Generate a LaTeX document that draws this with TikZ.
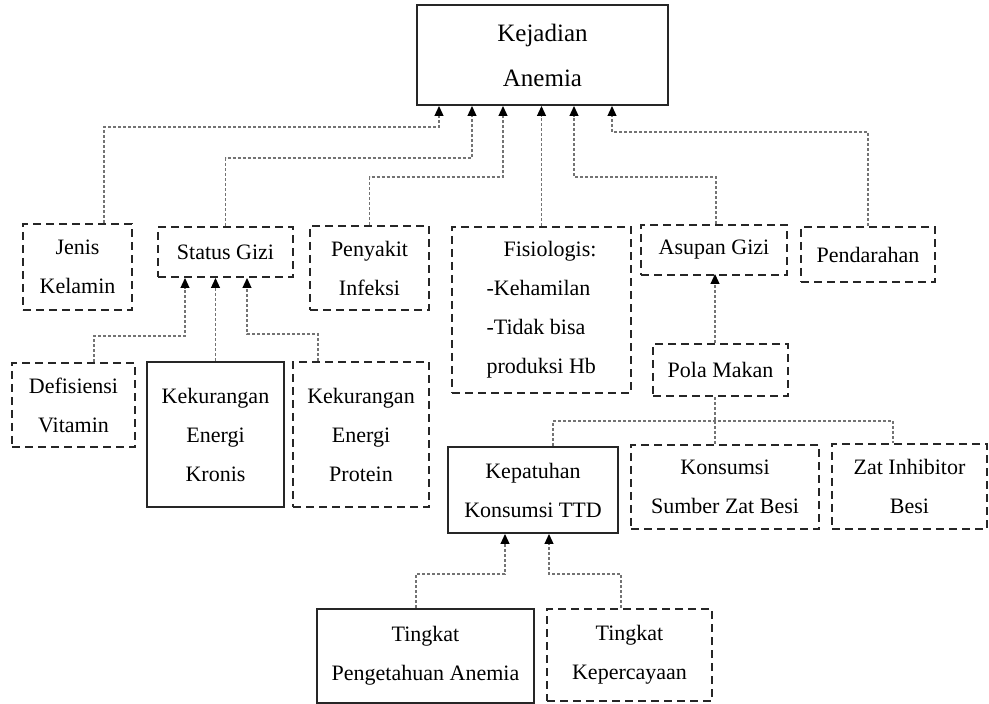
\documentclass[tikz,border=0pt]{standalone}
\usepackage{fontspec}
\setmainfont{Liberation Serif}
\usetikzlibrary{arrows.meta}

\begin{document}
\begin{tikzpicture}[
    x=0.5pt, y=-0.5pt,
    box/.style={rectangle, draw=black!85, line width=1pt, dash pattern=on 4pt off 2.5pt, align=center, inner sep=0pt, font=\fontsize{11pt}{19.5pt}\selectfont},
    solidbox/.style={box, solid},
    link/.style={draw=black!55, line width=0.6pt, dash pattern=on 1.5pt off 1pt},
    arrow/.style={link, -{Triangle[length=5pt, width=4.5pt, color=black]}}
]
\useasboundingbox (0,0) rectangle (989,704);

% Outcome
\node[solidbox, minimum width=125.5pt, minimum height=50pt, font=\fontsize{12.5pt}{22.5pt}\selectfont] (anemia) at (542.5,55) {Kejadian\\Anemia};

% Direct factors
\node[box, minimum width=54.5pt, minimum height=43pt] (jenis) at (77.5,267) {Jenis\\Kelamin};
\node[box, minimum width=67.5pt, minimum height=25pt] (status) at (225.5,252) {Status Gizi};
\node[box, minimum width=59.5pt, minimum height=42pt] (infeksi) at (369.5,268) {Penyakit\\Infeksi};
\node[box, minimum width=89.5pt, minimum height=83pt, align=left] (fisio) at (541.5,310) {\hspace*{8.5pt}Fisiologis:\\-Kehamilan\\-Tidak bisa\\produksi Hb};
\node[box, minimum width=73pt, minimum height=25pt] (asupan) at (714,250) {Asupan Gizi};
\node[box, minimum width=67pt, minimum height=27.5pt] (darah) at (868,254.5) {Pendarahan};

% Status gizi factors
\node[box, minimum width=61.5pt, minimum height=42pt] (vitamin) at (73.5,405) {Defisiensi\\Vitamin};
\node[solidbox, minimum width=68.5pt, minimum height=72.5pt] (kek) at (215.5,434.5) {Kekurangan\\Energi\\Kronis};
\node[box, minimum width=68pt, minimum height=72.5pt] (kep) at (361,434.5) {Kekurangan\\Energi\\Protein};

% Asupan gizi factors
\node[box, minimum width=67.5pt, minimum height=26pt] (pola) at (720.5,370) {Pola Makan};
\node[solidbox, minimum width=85pt, minimum height=43pt] (ttd) at (533,490) {Kepatuhan\\Konsumsi TTD};
\node[box, minimum width=94pt, minimum height=42pt] (sumber) at (725,487) {Konsumsi\\Sumber Zat Besi};
\node[box, minimum width=77.5pt, minimum height=42.5pt] (inhibitor) at (909.5,486.5) {Zat Inhibitor\\Besi};

% Kepatuhan factors
\node[solidbox, minimum width=108.5pt, minimum height=47pt] (tahu) at (425.5,656) {Tingkat\\Pengetahuan Anemia};
\node[box, minimum width=82.5pt, minimum height=46pt] (percaya) at (629.5,655) {Tingkat\\Kepercayaan};

% Connectors to Kejadian Anemia
\draw[arrow] ([xshift=13.25pt]jenis.north) -- ++(0,-96) -| ([xshift=-51.75pt]anemia.south);
\draw[arrow] (status.north) -- ++(0,-68) -| ([xshift=-35.25pt]anemia.south);
\draw[arrow] (infeksi.north) -- ++(0,-48) -| ([xshift=-19.75pt]anemia.south);
\draw[arrow] (fisio.north) -- (fisio.north |- anemia.south);
\draw[arrow] ([xshift=1pt]asupan.north) -- ++(0,-47) -| ([xshift=15.75pt]anemia.south);
\draw[arrow] (darah.north) -- ++(0,-94) -| ([xshift=34.75pt]anemia.south);

% Connectors to Status Gizi
\draw[arrow] ([xshift=10.25pt]vitamin.north) -- ++(0,-26) -| ([xshift=-20.25pt]status.south);
\draw[arrow] (kek.north) -- (kek.north |- status.south);
\draw[arrow] ([xshift=-21.5pt]kep.north) -- ++(0,-27) -| ([xshift=10.75pt]status.south);

% Pola makan
\draw[arrow] ([xshift=-2.75pt]pola.north) -- ++(0,-69);
\coordinate (split) at ([xshift=-2.75pt, yshift=-12pt]pola.south);
\draw[link] ([xshift=-2.75pt]pola.south) -- (split);
\draw[link] ([xshift=10pt]ttd.north) |- (split) -| ([xshift=-8.25pt]inhibitor.north);
\draw[link] (split) -- ([xshift=-5pt]sumber.north);

% Connectors to Kepatuhan
\draw[arrow] ([xshift=-4.75pt]tahu.north) -- ++(0,-34) -| ([xshift=-14pt]ttd.south);
\draw[arrow] ([xshift=-4.25pt]percaya.north) -- ++(0,-34) -| ([xshift=8pt]ttd.south);

\end{tikzpicture}
\end{document}
